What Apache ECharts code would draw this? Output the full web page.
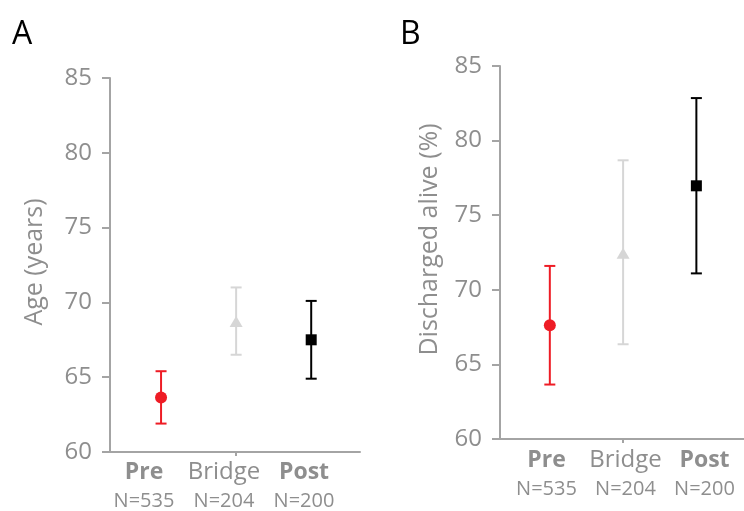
<!DOCTYPE html>
<html>
<head>
<meta charset="utf-8">
<script src="https://cdn.jsdelivr.net/npm/echarts@6/dist/echarts.min.js"></script>
<style>html,body{margin:0;padding:0;background:#fff;}#c{width:744px;height:511px;}</style>
</head>
<body>
<div id="c"></div>
<script>
// ---- data ----
const groups = ['Pre', 'Bridge', 'Post'];
const counts = ['N=535', 'N=204', 'N=200'];
const groupPos = [1, 2, 3];
const ageMean = [63.65, 68.73, 67.5];
const ageLow = [61.9, 66.5, 64.9];
const ageHigh = [65.4, 71.0, 70.1];
const dischMean = [67.62, 72.45, 76.97];
const dischLow = [63.65, 66.35, 71.1];
const dischHigh = [71.6, 78.68, 82.85];
const yTicks = { min: 60, max: 85, interval: 5 };
const panelLetters = ['A', 'B'];
const axisNames = ['Age (years)', 'Discharged alive (%)'];

// ---- styles ----
const colors = ['#ee1c25', '#d6d6d6', '#000000'];
const symbols = ['circle', 'triangle', 'rect'];
const symbolSizes = [12, [13, 11], 11];
const boldGroup = [true, false, true];
const txt = '#8e8e8e';
const axisCol = '#a4a4a4';
const FONT = 'Open Sans';

const chart = echarts.init(document.getElementById('c'));

function xAxisCfg(gi) {
  return {
    type: 'value', gridIndex: gi, min: 0.32, max: 3.65,
    axisLine: { show: true, lineStyle: { color: axisCol, width: 2 } },
    splitLine: { show: false },
    axisTick: { show: true, customValues: [2], length: 4, lineStyle: { color: axisCol, width: 2 } },
    axisLabel: { show: false }
  };
}
function labelAxisCfg(gi) {
  return {
    type: 'category', gridIndex: gi, data: groups,
    axisLine: { show: false }, axisTick: { show: false }, splitLine: { show: false },
    axisLabel: {
      interval: 0, margin: 6, fontFamily: FONT, hideOverlap: false,
      formatter: function (v, i) {
        const st = boldGroup[i] ? 'b' : 'r';
        return '{' + st + '|' + groups[i] + '}\n{n|' + counts[i] + '}';
      },
      rich: {
        b: { fontSize: 23, fontWeight: 'bold', color: txt, lineHeight: 30, fontFamily: FONT },
        r: { fontSize: 24, color: txt, lineHeight: 30, fontFamily: FONT },
        n: { fontSize: 20, color: txt, lineHeight: 28, fontFamily: FONT }
      }
    }
  };
}
function hiddenY(gi) {
  return { type: 'value', gridIndex: gi, show: false, min: 0, max: 1 };
}
function yAxisCfg(gi, name, gap, pad) {
  return {
    type: 'value', gridIndex: gi, min: yTicks.min, max: yTicks.max, interval: yTicks.interval,
    name: name, nameLocation: 'middle', nameGap: gap,
    nameTextStyle: { fontSize: 25, color: txt, fontFamily: FONT, padding: pad },
    axisLine: { show: true, lineStyle: { color: axisCol, width: 2 } },
    axisTick: { show: true, length: 8, lineStyle: { color: axisCol, width: 2 } },
    splitLine: { show: false },
    axisLabel: { fontSize: 24, color: txt, margin: 18, fontFamily: FONT }
  };
}

function errSeries(gi, low, high) {
  const data = groupPos.map((x, i) => [x, low[i], high[i], i]);
  return {
    type: 'custom', xAxisIndex: gi, yAxisIndex: gi, z: 2, silent: true,
    data: data,
    encode: { x: 0, y: [1, 2] },
    renderItem: function (params, api) {
      const x = api.value(0);
      const lo = api.coord([x, api.value(1)]);
      const hi = api.coord([x, api.value(2)]);
      const c = colors[api.value(3)];
      const hw = 5.5;
      const st = { stroke: c, lineWidth: 2 };
      return {
        type: 'group',
        children: [
          { type: 'line', shape: { x1: lo[0], y1: lo[1], x2: hi[0], y2: hi[1] }, style: st },
          { type: 'line', shape: { x1: lo[0] - hw, y1: lo[1], x2: lo[0] + hw, y2: lo[1] }, style: st },
          { type: 'line', shape: { x1: hi[0] - hw, y1: hi[1], x2: hi[0] + hw, y2: hi[1] }, style: st }
        ]
      };
    }
  };
}
function pointSeries(gi, mean) {
  return groupPos.map((x, i) => ({
    type: 'scatter', xAxisIndex: gi, yAxisIndex: gi, z: 3, silent: true,
    symbol: symbols[i], symbolSize: symbolSizes[i],
    itemStyle: { color: colors[i], opacity: 1 },
    data: [[x, mean[i]]]
  }));
}
function labelSeries(gi) {
  return { type: 'scatter', xAxisIndex: gi, yAxisIndex: gi, symbolSize: 0, silent: true, data: [] };
}

chart.setOption({
  animation: false,
  backgroundColor: '#fff',
  grid: [
    { left: 110, top: 78, width: 250, height: 374 },
    { left: 500, top: 66, width: 248, height: 373 },
    { left: 104, top: 78, width: 240, height: 374 },
    { left: 507, top: 66, width: 238, height: 373 }
  ],
  xAxis: [xAxisCfg(0), xAxisCfg(1), labelAxisCfg(2), labelAxisCfg(3)],
  yAxis: [yAxisCfg(0, axisNames[0], 63, [0, 0, 0, 6]), yAxisCfg(1, axisNames[1], 58, [0, 0, 0, 26]), hiddenY(2), hiddenY(3)],
  graphic: [
    { type: 'text', left: 12, top: 19, style: { text: panelLetters[0], fontSize: 32, fill: '#000', fontFamily: FONT } },
    { type: 'text', left: 400, top: 19, style: { text: panelLetters[1], fontSize: 32, fill: '#000', fontFamily: FONT } }
  ],
  series: [
    errSeries(0, ageLow, ageHigh),
    errSeries(1, dischLow, dischHigh)
  ].concat(pointSeries(0, ageMean), pointSeries(1, dischMean), [labelSeries(2), labelSeries(3)])
});
</script>
</body>
</html>
